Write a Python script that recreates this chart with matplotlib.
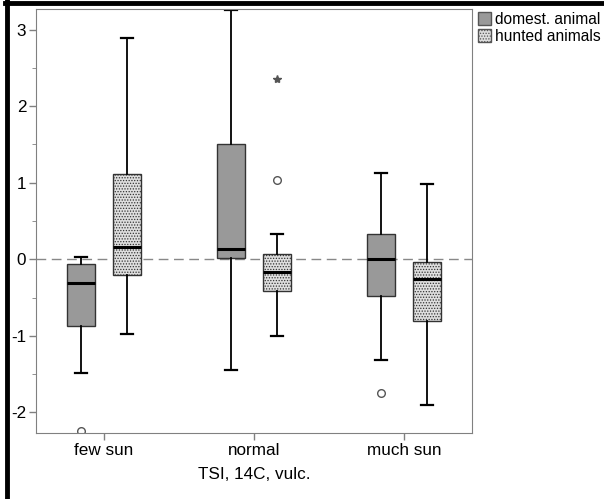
import matplotlib.pyplot as plt
import matplotlib.lines as mlines
from matplotlib.patches import Patch

plt.rcParams['font.family'] = ['Liberation Sans', 'DejaVu Sans']
plt.rcParams['hatch.linewidth'] = 0.6

groups = ['few sun', 'normal', 'much sun']
series = ['domest. animal', 'hunted animals']

# box stats per group: [domest, hunted]
whislo = [[-1.49, -0.98], [-1.45, -1.00], [-1.31, -1.91]]
q1 = [[-0.87, -0.20], [0.02, -0.41], [-0.48, -0.81]]
med = [[-0.31, 0.16], [0.13, -0.16], [0.00, -0.26]]
q3 = [[-0.065, 1.12], [1.50, 0.07], [0.33, -0.04]]
whishi = [[0.03, 2.89], [3.26, 0.33], [1.13, 0.98]]
outliers = [[[-2.24], []], [[], [1.03]], [[-1.75], []]]
extremes = [[[], []], [[], [2.35]], [[], []]]

fig = plt.figure(figsize=(6.04, 4.99), dpi=100)
ax = fig.add_axes([36/604, 1-433/499, 436/604, 424/499])

offset = 0.153
colors = ['#999999', '#dedede']
hatches = [None, '......']
for s in range(2):
    stats = []
    pos = []
    for g in range(3):
        stats.append(dict(whislo=whislo[g][s], q1=q1[g][s], med=med[g][s],
                          q3=q3[g][s], whishi=whishi[g][s], fliers=[]))
        pos.append(g + (offset if s else -offset))
    b = ax.bxp(stats, positions=pos, widths=0.187, patch_artist=True,
               showfliers=False, capwidths=0.08,
               boxprops=dict(edgecolor='#333333', linewidth=1),
               whiskerprops=dict(color='black', linewidth=1.3),
               capprops=dict(color='black', linewidth=1.6),
               medianprops=dict(color='black', linewidth=2.2))
    for p in b['boxes']:
        p.set_facecolor(colors[s])
        if hatches[s]:
            p.set_hatch(hatches[s])
    for g in range(3):
        x = g + (offset if s else -offset)
        if outliers[g][s]:
            ax.plot([x]*len(outliers[g][s]), outliers[g][s], 'o', ms=5.5,
                    mfc='white', mec='#555555', mew=1)
        if extremes[g][s]:
            ax.plot([x]*len(extremes[g][s]), extremes[g][s], '*', ms=6,
                    color='#555555')

ax.axhline(0, color='#888888', lw=1, ls=(0, (7, 4)), zorder=0)

ax.set_xlim(-0.453, 2.453)
ax.set_ylim(-2.27, 3.27)
ax.set_xticks(range(3))
ax.set_xticklabels(groups, fontsize=12.3)
ax.set_yticks([-2, -1, 0, 1, 2, 3])
ax.set_yticklabels(['-2', '-1', '0', '1', '2', '3'], fontsize=12.3)
ax.set_yticks([-1.5, -0.5, 0.5, 1.5, 2.5], minor=True)
ax.tick_params(axis='both', which='major', length=5, color='#808080', width=1, pad=2)
ax.tick_params(axis='y', which='minor', length=3, color='#808080')
for sp in ax.spines.values():
    sp.set_color('#808080')
ax.set_xlabel('TSI, 14C, vulc.', fontsize=12.3, labelpad=7)

handles = [Patch(facecolor=colors[0], edgecolor='#555555'),
           Patch(facecolor=colors[1], edgecolor='#555555', hatch='......')]
fig.legend(handles, series, loc='upper left', bbox_to_anchor=(472/604, 1-6/499),
           frameon=False, fontsize=11.2, handlelength=0.8, handleheight=0.9,
           handletextpad=0.25, labelspacing=0.1, borderaxespad=0)

# thick black frame on top and left
fig.add_artist(mlines.Line2D([5/604, 1], [1-3/499, 1-3/499], color='black', lw=3.5))
fig.add_artist(mlines.Line2D([6.5/604, 6.5/604], [0, 1-1/499], color='black', lw=3.5))

plt.savefig('out.png', dpi=100)
